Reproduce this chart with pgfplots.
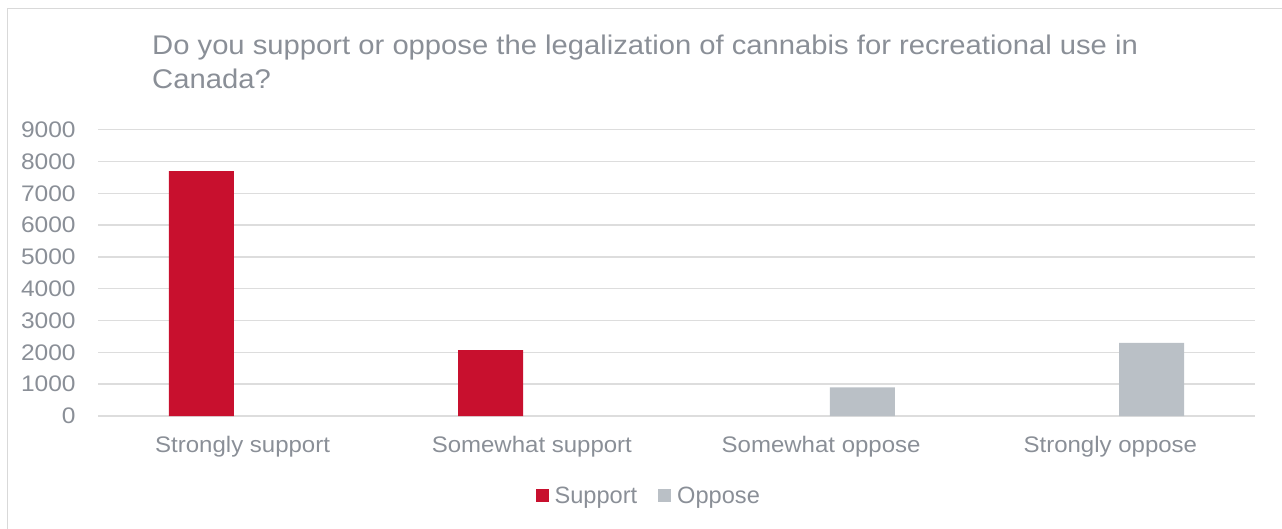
\documentclass[border=0pt]{standalone}
\usepackage{fontspec}
\setmainfont{Liberation Sans}
\usepackage{pgfplots}
\pgfplotsset{compat=1.18}
\definecolor{barred}{HTML}{C8102E}
\definecolor{bargray}{HTML}{BAC0C6}
\definecolor{txtgray}{HTML}{8A8F97}
\definecolor{gridgray}{HTML}{DDDDDD}
\definecolor{framegray}{HTML}{D9D9D9}
\begin{document}
\begin{tikzpicture}
\useasboundingbox (0pt,0pt) rectangle (1282pt,-529pt);
\draw[framegray, line width=1.5pt] (7.5pt,-529pt) -- (7.5pt,-8.5pt) -- (1282pt,-8.5pt);
\node[anchor=base west, inner sep=0pt, xscale=1.082, text=txtgray, font=\fontsize{27}{34}\selectfont] at (152pt,-55pt) {Do you support or oppose the legalization of cannabis for recreational use in};
\node[anchor=base west, inner sep=0pt, xscale=1.082, text=txtgray, font=\fontsize{27}{34}\selectfont] at (152pt,-89pt) {Canada?};
\coordinate (A) at (98pt,-416pt);
\begin{axis}[
  at={(A)}, anchor=south west,
  scale only axis, width=1157pt, height=286.3pt,
  xmin=-0.5, xmax=3.5, ymin=0, ymax=9000,
  xtick={0,1,2,3},
  xticklabels={Strongly support, Somewhat support, Somewhat oppose, Strongly oppose},
  ytick={0,1000,...,9000},
  ymajorgrids, grid style={color=gridgray, line width=1.4pt},
  axis line style={draw=none},
  major tick length=0pt, tick style={draw=none},
  scaled y ticks=false,
  /pgf/number format/assume math mode=true,
  y tick label style={/pgf/number format/1000 sep={}, font=\fontsize{22.5}{27}\selectfont, text=txtgray, xscale=1.09, xshift=-17pt},
  x tick label style={font=\fontsize{22.5}{27}\selectfont, text=txtgray, xscale=1.067, anchor=base, yshift=-36pt},
  legend columns=2,
  legend style={at={(0.476,-0.279)}, anchor=center, draw=none, fill=none,
    font=\fontsize{23.6}{27}\selectfont, text=txtgray,
    /tikz/every odd column/.append style={column sep=4pt},
    /tikz/every even column/.append style={column sep=19pt}},
]
\addplot[ybar, bar width=65pt, bar shift=-41.25pt, fill=barred, draw=none,
  legend image code/.code={\fill[barred] (0pt,-6.5pt) rectangle (13pt,6.5pt);}]
  coordinates {(0,7700) (1,2070)};
\addlegendentry{Support}
\addplot[ybar, bar width=65pt, bar shift=41.25pt, fill=bargray, draw=none,
  legend image code/.code={\fill[bargray] (0pt,-6.5pt) rectangle (13pt,6.5pt);}]
  coordinates {(2,900) (3,2300)};
\addlegendentry{Oppose}
\end{axis}
\end{tikzpicture}
\end{document}
